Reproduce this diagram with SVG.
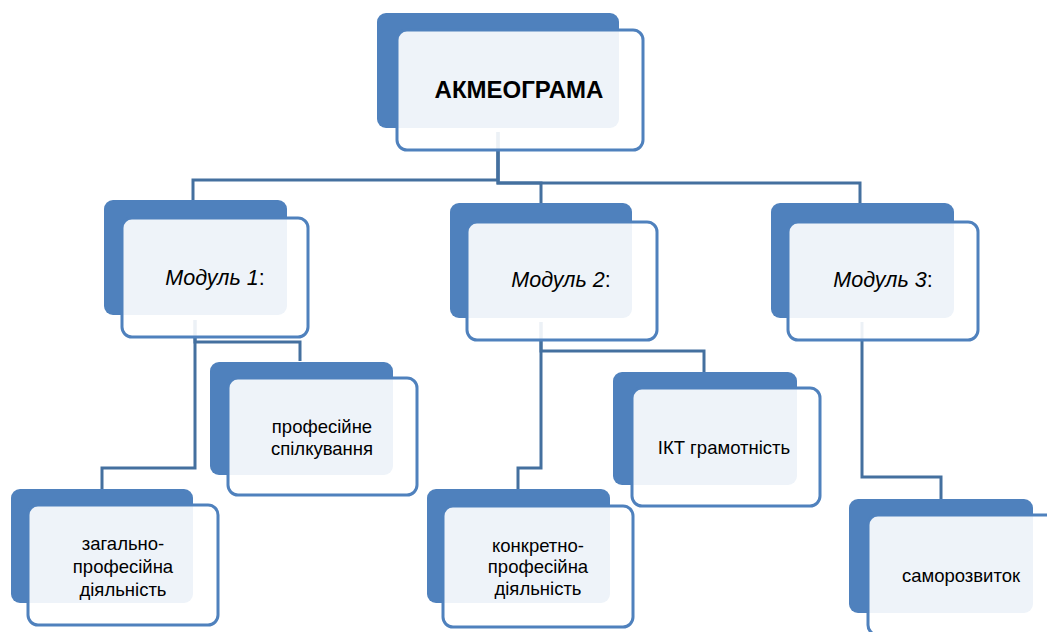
<svg xmlns="http://www.w3.org/2000/svg" width="1047" height="632" viewBox="0 0 1047 632">
<style>
.back{fill:#4F81BD}
.front{fill:#FFFFFF;fill-opacity:0.9;stroke:#4F81BD;stroke-width:3}
.conn{fill:none;stroke:#44709F;stroke-width:3}
.t{font-family:"Liberation Sans",Arial,sans-serif;font-size:18.5px;fill:#000;text-anchor:middle}
.title{font-family:"Liberation Sans",Arial,sans-serif;font-size:24px;font-weight:bold;fill:#000;text-anchor:middle}
.mod{font-family:"Liberation Sans",Arial,sans-serif;font-size:21.5px;fill:#000;text-anchor:middle}
</style>
<rect width="1047" height="632" fill="#FFFFFF"/>
<g id="connectors">
<polyline class="conn" points="498,132 498,180 193,180 193,201"/>
<polyline class="conn" points="498,132 498,183 541,183 541,204"/>
<polyline class="conn" points="498,132 498,183 860,183 860,204"/>
<polyline class="conn" points="195,320 195,342 300,342 300,361"/>
<polyline class="conn" points="195,320 195,468 102,468 102,489"/>
<polyline class="conn" points="541,322 541,351 704,351 704,372"/>
<polyline class="conn" points="541,322 541,468 518,468 518,489"/>
<polyline class="conn" points="862,322 862,477 941,477 941,499"/>
</g>
<g id="node-akmeograma">
<rect class="back" x="377" y="13" width="242" height="115" rx="9"/>
<rect class="front" x="397" y="30" width="246" height="120" rx="10"/>
<text class="title" x="519" y="98">АКМЕОГРАМА</text>
</g>
<g id="node-module1">
<rect class="back" x="104" y="200" width="183" height="115" rx="9"/>
<rect class="front" x="122" y="218" width="186" height="119" rx="10"/>
<text class="mod" x="215" y="285"><tspan font-style="italic">Модуль 1</tspan>:</text>
</g>
<g id="node-module2">
<rect class="back" x="450" y="203" width="182" height="115" rx="9"/>
<rect class="front" x="467" y="222" width="190" height="118" rx="10"/>
<text class="mod" x="561" y="287"><tspan font-style="italic">Модуль 2</tspan>:</text>
</g>
<g id="node-module3">
<rect class="back" x="771" y="203" width="183" height="115" rx="9"/>
<rect class="front" x="788" y="222" width="190" height="118" rx="10"/>
<text class="mod" x="883" y="287"><tspan font-style="italic">Модуль 3</tspan>:</text>
</g>
<g id="node-spilkuvannia">
<rect class="back" x="210" y="362" width="183" height="113" rx="9"/>
<rect class="front" x="228" y="378" width="189" height="117" rx="10"/>
<text class="t" x="322" y="433">професійне</text>
<text class="t" x="322" y="455">спілкування</text>
</g>
<g id="node-zahalno">
<rect class="back" x="11" y="489" width="182" height="114" rx="9"/>
<rect class="front" x="28" y="505" width="190" height="120" rx="10"/>
<text class="t" x="123" y="550">загально-</text>
<text class="t" x="123" y="573">професійна</text>
<text class="t" x="123" y="596">діяльність</text>
</g>
<g id="node-ikt">
<rect class="back" x="613" y="372" width="184" height="113" rx="9"/>
<rect class="front" x="632" y="388" width="188" height="118" rx="10"/>
<text class="t" x="724" y="454">ІКТ грамотність</text>
</g>
<g id="node-konkretno">
<rect class="back" x="427" y="489" width="183" height="114" rx="9"/>
<rect class="front" x="443" y="506" width="190" height="121" rx="10"/>
<text class="t" x="538" y="552">конкретно-</text>
<text class="t" x="538" y="573">професійна</text>
<text class="t" x="538" y="595">діяльність</text>
</g>
<g id="node-samorozvytok">
<rect class="back" x="849" y="499" width="184" height="114" rx="9"/>
<rect class="front" x="868" y="515" width="190" height="120" rx="10"/>
<text class="t" x="961" y="582">саморозвиток</text>
</g>
</svg>
